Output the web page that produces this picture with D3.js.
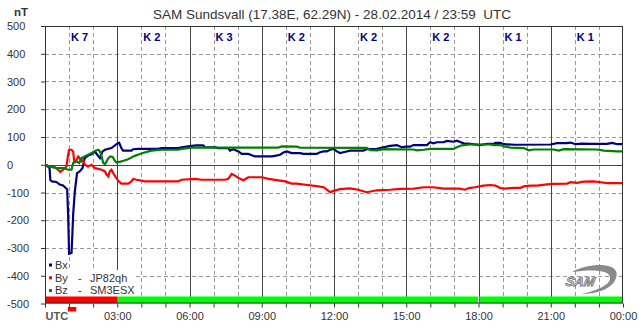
<!DOCTYPE html>
<html><head><meta charset="utf-8">
<script src="https://cdn.jsdelivr.net/npm/d3@7/dist/d3.min.js"></script>
<style>
html,body{margin:0;padding:0;background:#fff;}
svg{display:block;font-family:"Liberation Sans",Arial,sans-serif;}
</style></head>
<body>
<svg id="chart" width="643" height="331"></svg>
<script>
// ---- data (hours UTC, nT) ----
const titleText = "SAM Sundsvall (17.38E, 62.29N) - 28.02.2014 / 23:59  UTC";
const unitLabel = "nT";
const yTicks = [500,400,300,200,100,0,-100,-200,-300,-400,-500];
const xLabelHours = [0,3,6,9,12,15,18,21,24];
const xLabels = ["UTC","03:00","06:00","09:00","12:00","15:00","18:00","21:00","00:00"];
const kLabels = ["K 7","K 2","K 3","K 2","K 2","K 2","K 1","K 1"];
const legendNames = ["Bx","By","Bz"];
const legendStations = ["","JP82qh","SM3ESX"];
const seriesColors = ["#000080","#ff0000","#008000"];
// status bar segments [start, end, color]
const statusBar = [[0,3,"#ff0000"],[3,17.98,"#00ff00"],[18.04,24,"#00ff00"]];
const alertMarks = [[0.95,1.3]];

const bx = [[0,0],[0.1,-5],[0.19,-12],[0.22,-55],[0.29,-60],[0.47,-62],[0.61,-71],[0.75,-75],[0.85,-83],[0.92,-88],[0.96,-178],[1.0,-321],[1.1,-318],[1.125,-274],[1.17,-178],[1.24,-95],[1.33,-30],[1.44,-24],[1.56,-12],[1.65,24],[1.79,33],[1.93,38],[2.07,48],[2.17,36],[2.28,24],[2.39,48],[2.49,54],[2.76,60],[2.97,74],[3.08,79],[3.17,60],[3.24,51],[3.59,51],[3.66,56],[3.87,57],[4.7,57],[4.84,60],[5.53,60],[5.67,63],[6.09,68],[6.29,70],[6.57,70],[6.64,63],[7.05,63],[7.19,60],[7.61,60],[7.68,51],[7.82,56],[8.03,48],[8.17,39],[8.44,39],[8.72,30],[9.41,30],[9.55,32],[9.76,36],[9.9,44],[10.04,48],[10.24,42],[10.59,42],[10.73,39],[11.28,39],[11.42,45],[11.56,48],[11.7,48],[11.84,54],[11.98,57],[12.12,48],[12.25,42],[12.39,45],[12.67,51],[13.22,51],[13.36,56],[13.78,57],[14.06,63],[14.33,68],[14.61,71],[14.82,63],[14.96,65],[15.16,65],[15.3,71],[15.86,71],[15.99,81],[16.13,77],[16.27,81],[16.55,81],[16.69,86],[16.97,83],[17.1,87],[17.24,82],[17.38,77],[17.66,75],[18.07,71],[18.35,75],[18.63,75],[18.7,79],[18.91,79],[19.05,74],[19.5,72],[20.99,73],[21.26,78],[21.68,78],[21.82,80],[22.03,74],[22.3,76],[22.65,75],[23.34,75],[23.55,79],[23.76,74],[24,74]];

const by = [[0,0],[0.19,-6],[0.4,-8],[0.54,-18],[0.64,-26],[0.75,-18],[0.89,-6],[0.96,36],[1.0,54],[1.1,54],[1.17,48],[1.21,12],[1.28,12],[1.38,30],[1.44,24],[1.51,12],[1.58,18],[1.65,0],[1.79,-6],[1.93,0],[2.07,-12],[2.21,-15],[2.35,-18],[2.49,-24],[2.56,-36],[2.63,-42],[2.69,-24],[2.76,-18],[2.83,-30],[2.94,-45],[3.04,-58],[3.17,-68],[3.45,-68],[3.59,-60],[3.66,-51],[3.8,-54],[4.0,-57],[4.14,-60],[5.53,-60],[5.67,-54],[6.23,-51],[6.5,-54],[7.47,-54],[7.61,-51],[7.75,-33],[7.89,-39],[8.03,-48],[8.24,-56],[8.44,-45],[9.0,-45],[9.28,-51],[9.69,-56],[9.97,-60],[10.24,-68],[10.45,-68],[10.9,-73],[11.28,-77],[11.57,-81],[11.84,-99],[11.95,-95],[12.25,-88],[12.66,-85],[13.0,-90],[13.36,-99],[13.78,-92],[14.33,-90],[14.75,-87],[15.33,-86],[15.72,-81],[16.1,-81],[16.4,-84],[16.55,-86],[17.2,-86],[17.45,-90],[17.6,-84],[17.85,-81],[18.2,-75],[18.5,-73],[18.7,-75],[18.91,-84],[19.1,-86],[19.45,-83],[19.75,-83],[19.88,-78],[20.16,-75],[20.43,-75],[20.85,-71],[21.12,-69],[21.68,-68],[21.82,-63],[22.1,-65],[22.36,-61],[22.79,-60],[23.07,-63],[23.34,-66],[24,-66]];

const bz = [[0,0],[0.19,-6],[0.47,-12],[0.75,-12],[0.96,-18],[1.1,-18],[1.17,6],[1.31,12],[1.42,6],[1.51,24],[1.65,30],[1.79,36],[1.93,42],[2.07,50],[2.21,54],[2.28,48],[2.35,30],[2.42,6],[2.49,2],[2.56,12],[2.63,24],[2.71,30],[2.81,28],[2.9,14],[2.97,8],[3.17,12],[3.45,20],[3.73,32],[3.94,39],[4.14,44],[4.42,51],[4.84,54],[5.53,54],[5.67,57],[6.09,62],[9.69,62],[9.83,66],[10.45,65],[10.59,62],[13.36,61],[13.5,53],[13.78,52],[14.06,56],[15.3,55],[15.44,52],[15.72,54],[16.0,57],[16.97,57],[17.1,63],[17.31,70],[17.66,73],[18.49,73],[18.63,71],[18.91,71],[19.05,66],[19.32,62],[19.88,60],[20.08,52],[20.29,55],[21.12,55],[21.33,51],[21.54,56],[22.93,55],[23.2,51],[23.76,48],[24,48]];

const series = [bx, by, bz];

// ---- layout ----
const svg = d3.select("#chart");
const L = 45, R = 623, T = 26, B = 303.5;
const x = d3.scaleLinear().domain([0,24]).range([L,R]);
const y = d3.scaleLinear().domain([-500,500]).range([B,T]);
const txt = "#333";

svg.append("rect").attr("x",L).attr("y",T).attr("width",R-L).attr("height",B-T).attr("fill","#fff");

// grid: dashed hourly verticals, dashed horizontals
const g = svg.append("g");
g.selectAll(".vg").data(d3.range(1,24).filter(h=>h%3!==0)).join("line")
  .attr("x1",d=>Math.round(x(d))+0.5).attr("x2",d=>Math.round(x(d))+0.5)
  .attr("y1",T).attr("y2",B).attr("stroke","#999").attr("stroke-dasharray","4,3");
g.selectAll(".hg").data(yTicks.filter(v=>v!==0 && Math.abs(v)!==500)).join("line")
  .attr("x1",L).attr("x2",R)
  .attr("y1",d=>Math.round(y(d))+0.5).attr("y2",d=>Math.round(y(d))+0.5)
  .attr("stroke","#999").attr("stroke-dasharray","4,3");
g.selectAll(".vs").data(d3.range(3,24,3)).join("line")
  .attr("x1",d=>Math.round(x(d))+0.5).attr("x2",d=>Math.round(x(d))+0.5)
  .attr("y1",T).attr("y2",B).attr("stroke","#444");
g.append("line").attr("x1",L).attr("x2",R).attr("y1",Math.round(y(0))+0.5).attr("y2",Math.round(y(0))+0.5).attr("stroke","#444");

// K index labels
svg.selectAll(".k").data(kLabels).join("text")
  .attr("x",(d,i)=>x(i*3+1)+2).attr("y",41)
  .attr("font-size",11).attr("font-weight","bold").attr("fill","#000080")
  .style("white-space","pre").text(d=>d);

// legend background
svg.append("rect").attr("x",L+1).attr("y",270).attr("width",88).attr("height",27).attr("fill","#fff");

// status bar
svg.selectAll(".sb").data(statusBar).join("rect")
  .attr("x",d=>x(d[0])).attr("width",d=>x(d[1])-x(d[0]))
  .attr("y",y(-500)-7).attr("height",7).attr("fill",d=>d[2]);
svg.selectAll(".am").data(alertMarks).join("rect")
  .attr("x",d=>x(d[0])).attr("width",d=>x(d[1])-x(d[0]))
  .attr("y",B+3.5).attr("height",4.5).attr("fill","#ff0000");

// series lines
svg.append("clipPath").attr("id","clip").append("rect").attr("x",L).attr("y",T).attr("width",R-L).attr("height",B-T);
const line = d3.line().x(d=>x(d[0])).y(d=>y(d[1]));
svg.append("g").attr("clip-path","url(#clip)").selectAll("path").data(series).join("path")
  .attr("d",line).attr("fill","none").attr("stroke",(d,i)=>seriesColors[i])
  .attr("stroke-width",2.2).attr("stroke-linejoin","miter");

// legend
const lg = svg.append("g");
legendNames.forEach((n,i)=>{
  const yy = 265 + i*12.8;
  lg.append("rect").attr("x",49).attr("y",yy-1.5).attr("width",3).attr("height",3).attr("fill",seriesColors[i]);
  lg.append("text").attr("x",55).attr("y",yy+3.8).attr("font-size",11).attr("fill",txt).text(n);
  if (legendStations[i]) {
    lg.append("text").attr("x",78).attr("y",yy+3.8).attr("font-size",11).attr("fill",txt).text("-");
    lg.append("text").attr("x",90).attr("y",yy+3.8).attr("font-size",11).attr("fill",txt).text(legendStations[i]);
  }
});

// frame
svg.append("rect").attr("x",L+0.5).attr("y",T+0.5).attr("width",R-L-1).attr("height",B-T-1)
  .attr("fill","none").attr("stroke","#333");

// axes
const xAxis = d3.axisBottom(x).tickValues(d3.range(0,25)).tickSize(4).tickFormat(d=>{
  const k = xLabelHours.indexOf(d); return k>=0 ? xLabels[k] : "";});
const xa = svg.append("g").attr("transform",`translate(0,${B})`).call(xAxis);
xa.select(".domain").remove();
xa.selectAll(".tick line").attr("stroke","#333");
xa.selectAll(".tick text").attr("font-size",11).attr("fill",txt).attr("font-family","Liberation Sans, Arial, sans-serif").attr("dy","0.85em").attr("y",7);
xa.selectAll(".tick").filter(d=>d===0).select("text").attr("text-anchor","start").attr("x",0).attr("font-weight","bold").attr("fill","#555");

const yAxis = d3.axisLeft(y).tickValues(yTicks).tickSize(4).tickFormat(d=>String(d));
const ya = svg.append("g").attr("transform",`translate(${L},0)`).call(yAxis);
ya.select(".domain").remove();
ya.selectAll(".tick line").attr("stroke","#333");
ya.selectAll(".tick text").attr("font-size",11).attr("fill",txt).attr("font-family","Liberation Sans, Arial, sans-serif")
  .attr("text-anchor","start").attr("x",-38);

// title and unit
svg.append("text").attr("x",332).attr("y",19).attr("text-anchor","middle").attr("font-size",13.5).attr("fill",txt)
  .style("white-space","pre").text(titleText);
svg.append("text").attr("x",14).attr("y",16).attr("font-size",11.5).attr("font-weight","bold").attr("fill",txt).text(unitLabel);

// SAM logo
const logo = svg.append("g");
logo.append("path").attr("d","M572,272 C590,262 622,262 616,278 C612,290 595,294 582,294 C598,290 610,285 610,278 C611,270 592,269 572,272 Z")
  .attr("fill","#8a8a8a");
logo.append("text").attr("x",580).attr("y",286).attr("text-anchor","middle").attr("font-size",13).attr("font-style","italic")
  .attr("font-weight","bold").attr("fill","#e0e0e0").attr("stroke","#707070").attr("stroke-width",0.8)
  .attr("transform","skewX(-10) translate(50,0)").text("SAM");
</script>
</body></html>
